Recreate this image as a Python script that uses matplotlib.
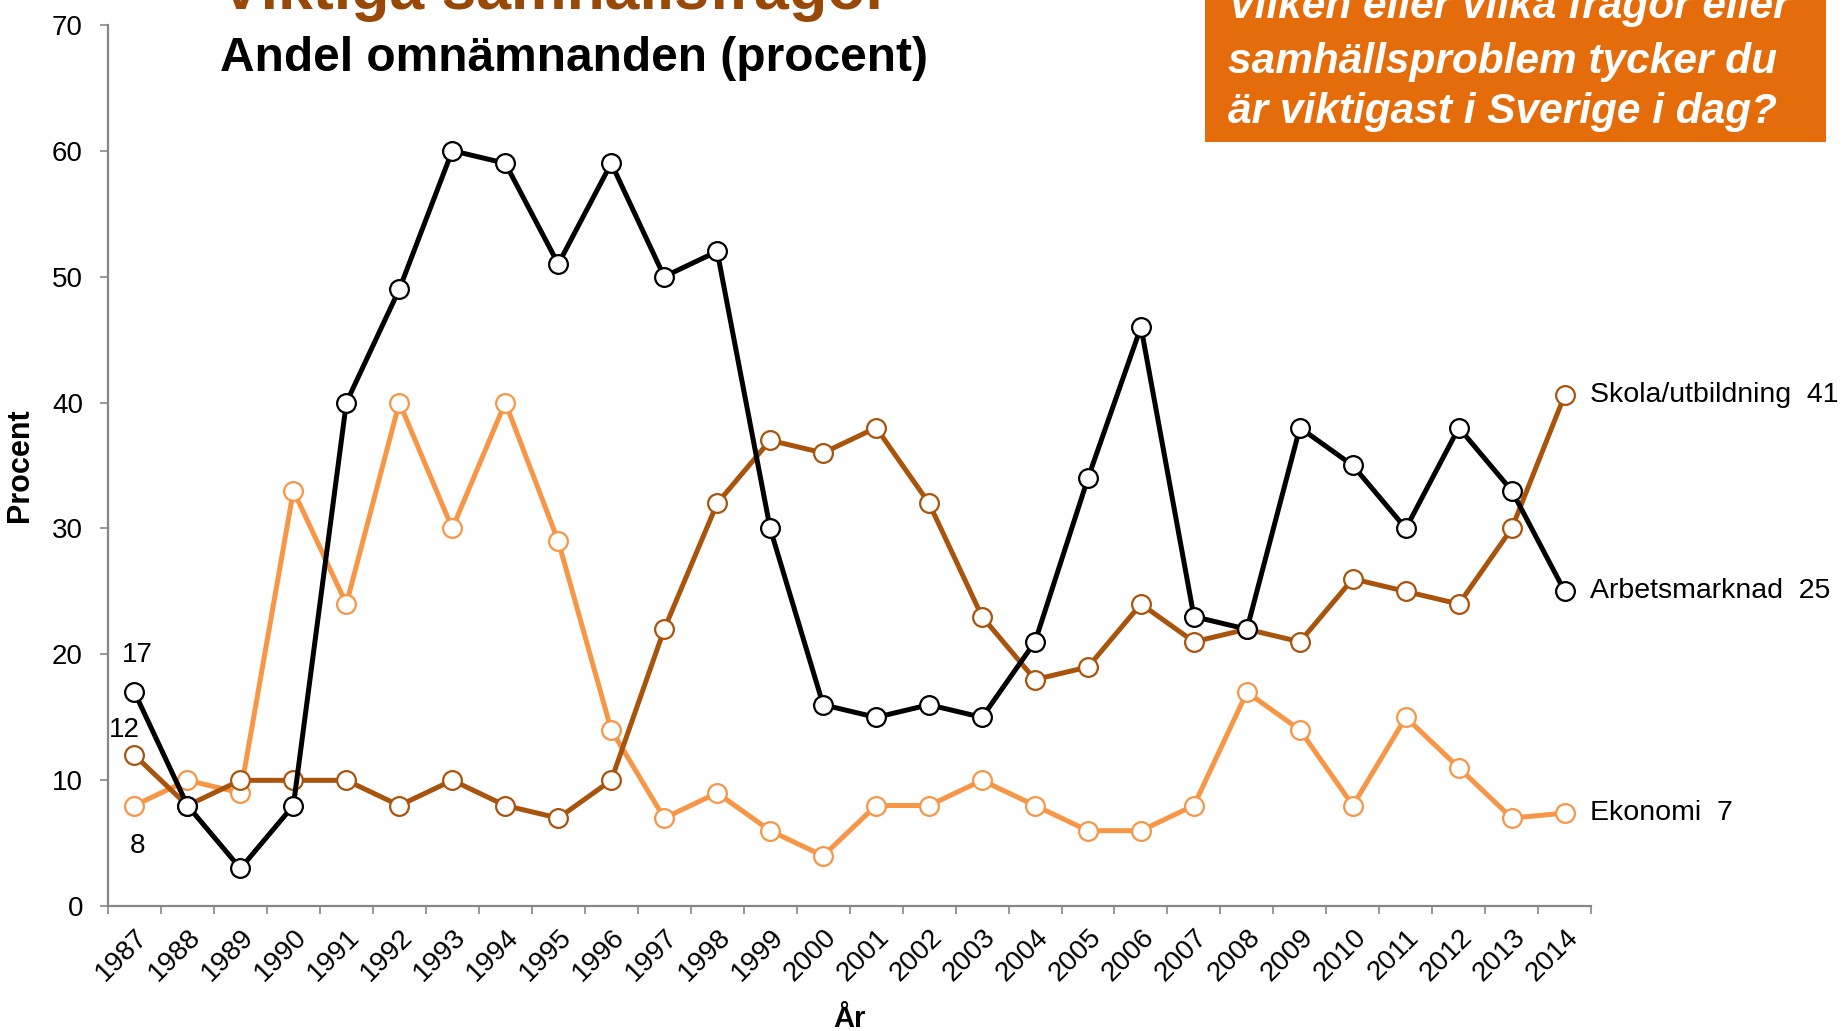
import matplotlib.pyplot as plt
from matplotlib.patches import Rectangle

plt.rcParams['font.family'] = ['Liberation Sans', 'DejaVu Sans']

years = [str(y) for y in range(1987, 2015)]

arbetsmarknad = [17, 8, 3, 8, 40, 49, 60, 59, 51, 59, 50, 52, 30, 16,
                 15, 16, 15, 21, 34, 46, 23, 22, 38, 35, 30, 38, 33, 25]
skola = [12, 8, 10, 10, 10, 8, 10, 8, 7, 10, 22, 32, 37, 36,
         38, 32, 23, 18, 19, 24, 21, 22, 21, 26, 25, 24, 30, 40.6]
ekonomi = [8, 10, 9, 33, 24, 40, 30, 40, 29, 14, 7, 9, 6, 4,
           8, 8, 10, 8, 6, 6, 8, 17, 14, 8, 15, 11, 7, 7.4]

series = [
    ("Ekonomi", ekonomi, "#F79646"),
    ("Skola/utbildning", skola, "#A8540C"),
    ("Arbetsmarknad", arbetsmarknad, "#000000"),
]

fig = plt.figure(figsize=(18.46, 10.31), dpi=100)
ax = fig.add_axes([0.0585, 0.121, 0.8035, 0.855])

x = list(range(len(years)))
for name, vals, col in series:
    ax.plot(x, vals, color=col, lw=3.6, marker="o", ms=13.5,
            mfc="white", mec=col, mew=1.6, zorder=3)
    ax.annotate(f"{name}  {round(vals[-1])}", xy=(x[-1], vals[-1]),
                xytext=(18, 0), textcoords="offset points",
                va="center", ha="left", fontsize=20.5)

# labels on the first year
ax.annotate(str(arbetsmarknad[0]), xy=(0, arbetsmarknad[0]), xytext=(2, 27),
            textcoords="offset points", ha="center", va="center", fontsize=20)
ax.annotate(str(skola[0]), xy=(0, skola[0]), xytext=(-7, 18),
            textcoords="offset points", ha="center", va="center", fontsize=20)
ax.annotate(str(ekonomi[0]), xy=(0, ekonomi[0]), xytext=(2, -29),
            textcoords="offset points", ha="center", va="center", fontsize=20)

ax.set_xlim(-0.5, len(years) - 0.5)
ax.set_ylim(0, 70)
ax.set_yticks(range(0, 71, 10))
ax.set_xticks(x)
ax.set_xticklabels(years, rotation=45, ha="right", rotation_mode="anchor")
ax.set_xticks([i - 0.5 for i in range(len(years) + 1)], minor=True)
ax.tick_params(axis="x", which="major", length=0, pad=13, labelsize=20)
ax.tick_params(axis="x", which="minor", length=6, width=1.2, color="#868686")
ax.tick_params(axis="y", length=6, width=1.2, color="#868686", pad=12, labelsize=20)

for s in ["top", "right"]:
    ax.spines[s].set_visible(False)
for s in ["left", "bottom"]:
    ax.spines[s].set_color("#868686")
    ax.spines[s].set_linewidth(1.6)

ax.set_ylabel("Procent", fontsize=22, fontweight="bold", labelpad=12)
fig.text(0.46, 0.004, "År", fontsize=21, fontweight="bold", ha="center", va="baseline")

# titles
fig.text(0.119, 0.991, "Viktiga samhällsfrågor", fontsize=45, fontweight="bold",
         color="#984807", ha="left", va="baseline")
fig.text(0.119, 0.931, "Andel omnämnanden (procent)", fontsize=34.5, fontweight="bold",
         ha="left", va="baseline")

# question box
fig.patches.append(Rectangle((0.653, 0.862), 0.336, 0.2, transform=fig.transFigure,
                             facecolor="#E46C0A", edgecolor="none", zorder=0))
q_lines = ["Vilken eller vilka frågor eller", "samhällsproblem tycker du",
           "är viktigast i Sverige i dag?"]
for line, yy in zip(q_lines, [0.983, 0.929, 0.881]):
    fig.text(0.665, yy, line, fontsize=30.5, fontweight="bold", style="italic",
             color="white", ha="left", va="baseline")

fig.savefig("out.png", dpi=100)
